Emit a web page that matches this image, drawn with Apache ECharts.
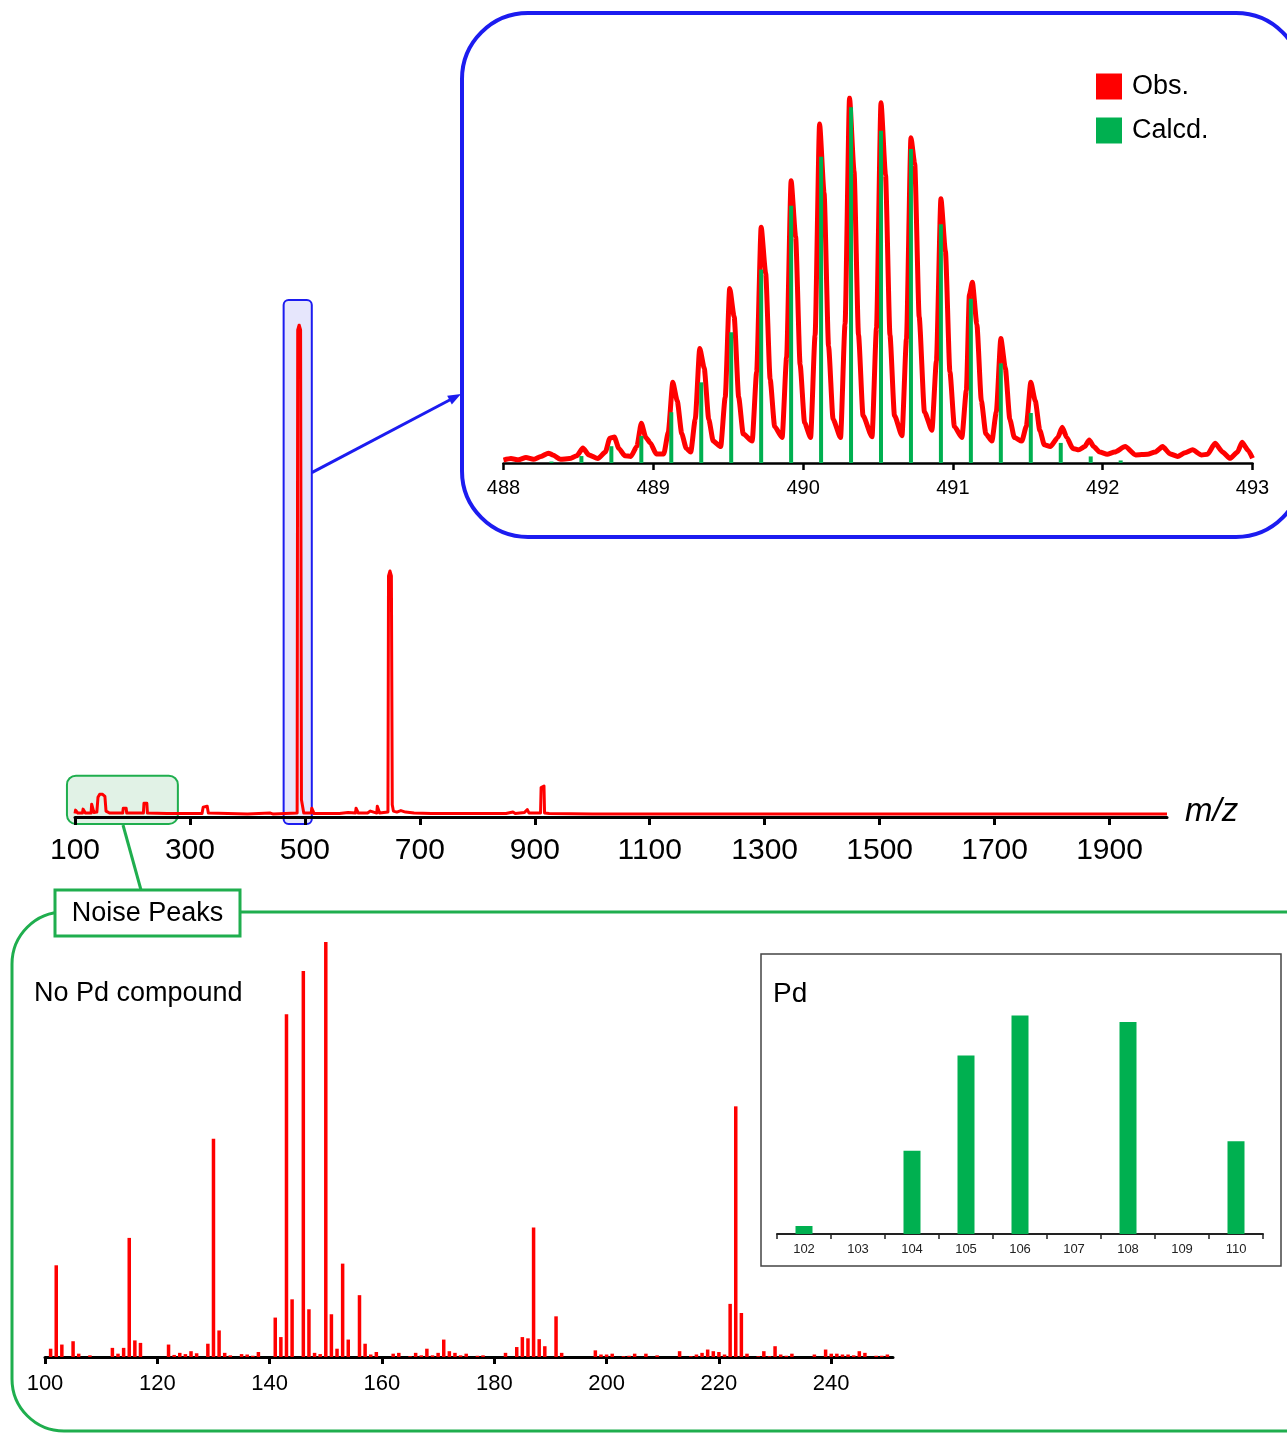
<!DOCTYPE html>
<html>
<head>
<meta charset="utf-8">
<title>Mass spectrum with isotope pattern and noise peaks</title>
<script src="https://cdn.jsdelivr.net/npm/echarts@6/dist/echarts.min.js"></script>
<style>
  html, body { margin: 0; padding: 0; background: #fff; }
  #chart { width: 1287px; height: 1434px; }
</style>
</head>
<body>
<div id="chart"></div>
<script>
// full spectrum, [m/z, relative intensity %]
const fullTrace = [
  [100, 0.7], [101, 1.4], [104, 1.4], [105, 0.8], [113, 0.8], [114, 1.6], [117, 1.6], [118, 0.8],
  [128, 0.8], [129, 2.6], [132, 2.6], [133, 0.9], [138, 1.0], [140, 4.0], [143, 4.6], [148, 4.6],
  [152, 4.2], [154, 1.2], [157, 1.0], [160, 0.8], [183, 0.8], [184, 1.8], [189, 1.8], [190, 0.8],
  [219, 0.8], [220, 2.8], [225, 2.8], [226, 0.8], [260, 0.7], [321, 0.7], [323, 2.0], [330, 2.2],
  [332, 0.8], [400, 0.6], [440, 0.8], [445, 0.6], [486.5, 0.8], [487.5, 99], [490, 100], [492.5, 99],
  [494, 3.5], [496, 3.2], [498, 0.8], [511, 0.8], [512, 1.8], [515, 1.6], [516, 0.7], [560, 0.7],
  [575, 0.9], [588, 0.8], [589, 1.8], [592, 1.8], [593, 0.8], [609, 0.8], [610, 1.2], [614, 1.2],
  [615, 0.8], [625, 0.8], [626, 2.2], [629, 2.2], [630, 0.8], [644.5, 1.0], [645.5, 49], [648, 50],
  [650.5, 49], [652, 2.5], [654, 1.2], [660, 1.0], [667, 1.3], [675, 1.0], [690, 0.8], [720, 0.7],
  [769, 0.7], [771, 1.0], [773, 0.7], [850, 0.7], [862, 1.0], [866, 0.7], [882, 0.9], [887, 1.5],
  [890, 0.8], [910, 0.8], [911, 6.0], [913, 6.4], [916, 6.3], [917, 0.8], [925, 0.7], [1000, 0.6],
  [1400, 0.6], [2000, 0.6]
];
const fullTicks = [100, 300, 500, 700, 900, 1100, 1300, 1500, 1700, 1900];

// isotope pattern, observed trace
const obsTrace = [
  [488.00, 0.8], [488.05, 1.2], [488.10, 0.9], [488.15, 1.5], [488.20, 1.0], [488.25, 1.8],
  [488.30, 2.7], [488.33, 2.2], [488.38, 1.0], [488.44, 1.2], [488.49, 2.0], [488.53, 4.1],
  [488.57, 2.2], [488.63, 1.2], [488.68, 3.0], [488.71, 6.8], [488.74, 7.1], [488.77, 4.0],
  [488.81, 2.0], [488.85, 1.8], [488.89, 4.5], [488.92, 10.9], [488.95, 7.0], [488.98, 5.5],
  [489.02, 2.5], [489.07, 2.5], [489.10, 8.4], [489.13, 22.1], [489.16, 17], [489.19, 8],
  [489.22, 4], [489.25, 3.0], [489.28, 12], [489.31, 31.4], [489.34, 26], [489.37, 12],
  [489.40, 6], [489.45, 4.5], [489.48, 18], [489.51, 47.8], [489.54, 40], [489.57, 18],
  [489.60, 8], [489.66, 6], [489.69, 25], [489.72, 64.6], [489.75, 52], [489.78, 23],
  [489.81, 10], [489.86, 7], [489.89, 29], [489.92, 77.3], [489.95, 62], [489.98, 27],
  [490.01, 11], [490.05, 7], [490.08, 35], [490.11, 92.9], [490.14, 74], [490.17, 32],
  [490.20, 12], [490.25, 7], [490.28, 38], [490.31, 100], [490.34, 80], [490.37, 35],
  [490.40, 13], [490.46, 7.2], [490.49, 37], [490.52, 98.7], [490.55, 79], [490.58, 35],
  [490.61, 13], [490.66, 7.5], [490.69, 34], [490.72, 89.1], [490.745, 82], [490.775, 40],
  [490.81, 14], [490.86, 9], [490.89, 28], [490.92, 72.4], [490.95, 58], [490.98, 25],
  [491.01, 10], [491.06, 7], [491.09, 20], [491.11, 46], [491.13, 49.5], [491.16, 38],
  [491.19, 17], [491.22, 8], [491.26, 6], [491.29, 14], [491.32, 34.1], [491.35, 26],
  [491.38, 12], [491.41, 7], [491.46, 6], [491.49, 10], [491.52, 22.1], [491.55, 17],
  [491.58, 9], [491.61, 5], [491.65, 4.5], [491.70, 7], [491.73, 9.8], [491.76, 7],
  [491.80, 4], [491.84, 3.6], [491.88, 4.5], [491.91, 6.3], [491.94, 4.5], [491.98, 3],
  [492.03, 2.4], [492.08, 3], [492.15, 4.5], [492.22, 2.2], [492.30, 2.4], [492.35, 3.0],
  [492.40, 4.5], [492.45, 2.5], [492.50, 1.8], [492.55, 2.8], [492.60, 3.6], [492.66, 2.2],
  [492.70, 2.4], [492.75, 5.4], [492.80, 3.0], [492.85, 1.3], [492.90, 3.0], [492.93, 5.7],
  [492.97, 3.5], [493.00, 1.3]
];
// calculated isotope lines
const calcMz = [488.32, 488.52, 488.72, 488.92, 489.12, 489.32, 489.52, 489.72, 489.92, 490.12,
  490.32, 490.52, 490.72, 490.92, 491.12, 491.32, 491.52, 491.72, 491.92, 492.12];
const calcInt = [0.4, 1.9, 4.6, 7.4, 13.9, 22.1, 35.8, 53, 70.5, 83.9,
  97.5, 91, 86, 65.4, 45, 27.3, 13.7, 5.5, 1.8, 0.7];
const isoTicks = [488, 489, 490, 491, 492, 493];

// noise peaks, no Pd compound
const noiseMz = [101, 102, 103, 105, 106, 108, 112, 113, 114, 115, 116, 117, 122, 123, 124, 125, 126, 127,
  129, 130, 131, 132, 133, 135, 136, 137, 138, 141, 142, 143, 144, 146, 147, 148, 149, 150, 151, 152,
  153, 154, 156, 157, 158, 159, 162, 163, 165, 166, 167, 168, 169, 170, 171, 172, 173, 174, 175, 177,
  178, 182, 184, 185, 186, 187, 188, 189, 191, 192, 198, 199, 200, 201, 203, 204, 205, 207, 209, 213,
  215, 216, 217, 218, 219, 220, 221, 222, 223, 224, 225, 227, 228, 229, 230, 231, 232, 233, 237, 239,
  240, 241, 242, 243, 244, 245, 246, 248, 249, 250];
const noiseInt = [2.0, 22.1, 3.0, 3.8, 0.8, 0.4, 2.2, 0.8, 2.2, 28.7, 4.0, 3.4, 3.0, 0.5, 1.0, 0.7, 1.4, 0.9,
  3.2, 52.6, 6.4, 1.0, 0.4, 0.7, 0.6, 0.3, 1.2, 9.5, 4.8, 82.6, 13.9, 93.0, 11.5, 1.0, 0.7, 100, 10.3, 2.0,
  22.5, 4.2, 14.9, 3.2, 0.6, 1.2, 0.8, 1.0, 0.2, 1.0, 0.4, 2.0, 0.4, 1.0, 4.2, 1.4, 1.0, 0.4, 0.8, 0.3,
  0.4, 1.0, 2.4, 4.8, 4.5, 31.2, 4.3, 2.6, 9.8, 1.0, 1.6, 0.6, 0.6, 0.8, 0.2, 0.3, 0.8, 0.8, 0.4, 1.4,
  0.2, 0.6, 1.0, 1.8, 1.4, 1.2, 0.6, 12.8, 60.4, 10.6, 0.8, 0.2, 1.4, 0.2, 2.6, 0.6, 0.3, 0.8, 0.6, 1.8,
  0.8, 0.8, 0.6, 0.6, 0.4, 1.4, 1.0, 0.3, 0.3, 0.6];
const noiseTicks = [100, 120, 140, 160, 180, 200, 220, 240];

// Pd natural isotopes
const pdMass = ['102', '103', '104', '105', '106', '107', '108', '109', '110'];
const pdAbund = [1.0, 0, 10.4, 22.3, 27.3, 0, 26.5, 0, 11.6];

// m/z windows marked on the full spectrum
const isoWindow = [463, 512];
const noiseWindow = [86, 279];

const FONT = '"Liberation Sans", Arial, Helvetica, sans-serif';
const RED = '#ff0000';
const GREEN = '#00b050';
const BLUE = '#1c1cf0';
const FRAME_GREEN = '#1fae4e';

const pairs = (xs, ys) => xs.map((x, i) => [x, ys[i]]);

// axis helper for the three m/z axes
function mzAxis(grid, min, max, ticks, fontSize, margin, width, tickLen) {
  return {
    gridIndex: grid,
    type: 'value',
    min: min,
    max: max,
    axisLine: { onZero: false, lineStyle: { color: '#000', width: width } },
    axisTick: { customValues: ticks, length: tickLen, lineStyle: { color: '#000', width: width } },
    axisLabel: {
      customValues: ticks, fontSize: fontSize, margin: margin, color: '#000', fontFamily: FONT,
      formatter: (v) => String(v),
    },
    splitLine: { show: false },
  };
}

const chart = echarts.init(document.getElementById('chart'));

chart.setOption({
  animation: false,
  backgroundColor: '#fff',
  textStyle: { fontFamily: FONT, color: '#000' },
  legend: {
    data: ['Obs.', 'Calcd.'],
    orient: 'vertical',
    left: 1091,
    top: 68,
    icon: 'rect',
    itemWidth: 26,
    itemHeight: 26,
    itemGap: 17,
    selectedMode: false,
    textStyle: { fontSize: 27, color: '#000', fontFamily: FONT, padding: [0, 0, 0, 5] },
  },
  grid: [
    { left: 75, top: 325, width: 1092, height: 492 },
    { left: 503.5, top: 98, width: 749, height: 365 },
    { left: 45, top: 942, width: 848, height: 415 },
    { left: 777, top: 994, width: 486, height: 240 },
  ],
  xAxis: [
    mzAxis(0, 100, 2000, fullTicks, 30, 19, 3, 8),
    mzAxis(1, 488, 493, isoTicks, 20, 15, 2.5, 7),
    mzAxis(2, 100, 251, noiseTicks, 22, 16, 3, 7),
    {
      gridIndex: 3,
      type: 'category',
      data: pdMass,
      axisLine: { lineStyle: { color: '#222', width: 2 } },
      axisTick: { show: true, interval: 0, alignWithLabel: false, length: 5, lineStyle: { color: '#222', width: 1.5 } },
      axisLabel: { interval: 0, fontSize: 13, margin: 9, color: '#222', fontFamily: FONT },
    },
  ],
  yAxis: [
    { gridIndex: 0, type: 'value', min: 0, max: 100, show: false },
    { gridIndex: 1, type: 'value', min: 0, max: 100, show: false },
    { gridIndex: 2, type: 'value', min: 0, max: 100, show: false },
    { gridIndex: 3, type: 'value', min: 0, max: 30, show: false },
  ],
  series: [
    {
      type: 'line',
      xAxisIndex: 0,
      yAxisIndex: 0,
      data: fullTrace,
      symbol: 'none',
      lineStyle: { color: RED, width: 3, join: 'round' },
      z: 3,
    },
    {
      name: 'Obs.',
      type: 'line',
      xAxisIndex: 1,
      yAxisIndex: 1,
      data: obsTrace,
      symbol: 'none',
      smooth: 0.2,
      smoothMonotone: 'x',
      itemStyle: { color: RED },
      lineStyle: { color: RED, width: 5, join: 'round' },
      z: 3,
    },
    {
      name: 'Calcd.',
      type: 'bar',
      xAxisIndex: 1,
      yAxisIndex: 1,
      data: pairs(calcMz, calcInt),
      barWidth: 4,
      itemStyle: { color: GREEN },
      z: 4,
    },
    {
      type: 'bar',
      xAxisIndex: 2,
      yAxisIndex: 2,
      data: pairs(noiseMz, noiseInt),
      barWidth: 3.5,
      itemStyle: { color: RED },
    },
    {
      type: 'bar',
      xAxisIndex: 3,
      yAxisIndex: 3,
      data: pdAbund,
      barWidth: 17,
      itemStyle: { color: GREEN },
    },
  ],
});

// annotation boxes sit on the full spectrum's own scale
const px = (v, y) => chart.convertToPixel({ xAxisIndex: 0, yAxisIndex: 0 }, [v, y]);
const base = px(100, 0)[1];
const isoL = px(isoWindow[0], 0)[0];
const isoR = px(isoWindow[1], 0)[0];
const isoTop = px(100, 100)[1] - 25;
const noiseL = px(noiseWindow[0], 0)[0];
const noiseR = px(noiseWindow[1], 0)[0];
const noiseTop = px(100, 8.4)[1];

// arrow from the marked peak to the zoom frame
const a0 = [isoR, px(100, 70)[1]];
const a1 = [461, 394];
const ang = Math.atan2(a1[1] - a0[1], a1[0] - a0[0]);
const head = (len, off) => [a1[0] - len * Math.cos(ang) + off * Math.sin(ang), a1[1] - len * Math.sin(ang) - off * Math.cos(ang)];

chart.setOption({
  graphic: [
    {
      type: 'rect', z: -1,
      shape: { x: isoL, y: isoTop, width: isoR - isoL, height: base + 7 - isoTop, r: 5 },
      style: { fill: '#e6e6fc', stroke: BLUE, lineWidth: 2 },
    },
    {
      type: 'rect', z: -1,
      shape: { x: noiseL, y: noiseTop, width: noiseR - noiseL, height: base + 7 - noiseTop, r: 9 },
      style: { fill: '#e1f2e6', stroke: FRAME_GREEN, lineWidth: 2 },
    },
    {
      type: 'line',
      shape: { x1: a0[0], y1: a0[1], x2: head(8, 0)[0], y2: head(8, 0)[1] },
      style: { stroke: BLUE, lineWidth: 3 },
    },
    {
      type: 'polygon',
      shape: { points: [a1, head(13, 5), head(13, -5)] },
      style: { fill: BLUE },
    },
    {
      type: 'rect',
      shape: { x: 462, y: 13, width: 840, height: 524, r: 66 },
      style: { fill: 'none', stroke: BLUE, lineWidth: 4 },
    },
    {
      type: 'line',
      shape: { x1: 123, y1: base + 8, x2: 141, y2: 890 },
      style: { stroke: FRAME_GREEN, lineWidth: 3 },
    },
    {
      type: 'rect',
      shape: { x: 12, y: 912, width: 1340, height: 519, r: 52 },
      style: { fill: 'none', stroke: FRAME_GREEN, lineWidth: 3 },
    },
    {
      type: 'rect', z: 5,
      shape: { x: 55, y: 890, width: 185, height: 46 },
      style: { fill: '#fff', stroke: FRAME_GREEN, lineWidth: 3 },
    },
    {
      type: 'text', z: 6,
      style: { text: 'Noise Peaks', x: 147.5, y: 914, font: '27px ' + FONT, fill: '#000', align: 'center', verticalAlign: 'middle' },
    },
    {
      type: 'text',
      style: { text: 'No Pd compound', x: 34, y: 994, font: '27px ' + FONT, fill: '#000', align: 'left', verticalAlign: 'middle' },
    },
    {
      type: 'rect',
      shape: { x: 761, y: 954, width: 520, height: 312 },
      style: { fill: 'none', stroke: '#444', lineWidth: 1.5 },
    },
    {
      type: 'text',
      style: { text: 'Pd', x: 773, y: 994, font: '28px ' + FONT, fill: '#000', align: 'left', verticalAlign: 'middle' },
    },
    {
      type: 'text',
      style: { text: 'm/z', x: 1185, y: 812, font: 'italic 33px ' + FONT, fill: '#000', align: 'left', verticalAlign: 'middle' },
    },
  ],
});
</script>
</body>
</html>
